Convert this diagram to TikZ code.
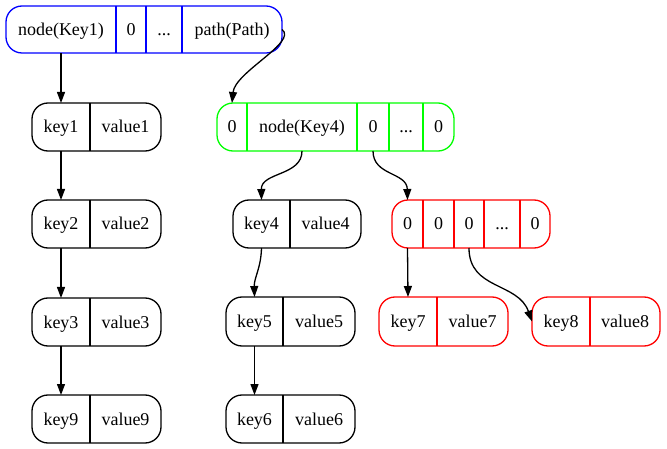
\documentclass[tikz,border=0pt]{standalone}
\usepackage{fontspec}
\setmainfont{Liberation Serif}
\usetikzlibrary{arrows.meta,fit}
\tikzset{
  fld/.style={inner sep=0pt, outer sep=0pt, anchor=center,
    text height=12pt, text depth=0pt,
    font=\fontsize{18pt}{20pt}\selectfont},
  recbox/.style={draw, line width=1.3pt, rounded corners=16pt,
    inner sep=0pt, outer sep=0pt},
  sep/.style={line width=1.3pt},
  link/.style={draw=black, line width=1.3pt,
    -{Triangle[length=11pt,width=8pt]}},
}
% one field of a record: name, x-from, x-to, y-from, y-to, text
\newcommand\recfield[6]{%
  \node[fld, minimum width={#3-#2}, minimum height={#5-#4}]
    (#1) at ({(#2+#3)/2},{(#4+#5)/2}) {#6};}
% vertical line on the right side of a field
\newcommand\fieldsep[2]{\draw[sep,#2] (#1.north east) -- (#1.south east);}
\begin{document}
\begin{tikzpicture}[x=1pt,y=-1pt]
\useasboundingbox (0,0) rectangle (667,449);

% root record
\recfield{t1}{6}{116}{6}{53}{node(Key1)}
\recfield{t2}{116}{146}{6}{53}{0}
\recfield{t3}{146}{182}{6}{53}{...}
\recfield{t4}{182}{282}{6}{53}{path(Path)}
\node[recbox, draw=blue, fit=(t1)(t4)] (root) {};
\fieldsep{t1}{blue}\fieldsep{t2}{blue}\fieldsep{t3}{blue}

% left chain
\recfield{k1}{32}{90}{103}{151}{key1}
\recfield{v1}{90}{161}{103}{151}{value1}
\node[recbox, fit=(k1)(v1)] (n1) {};
\fieldsep{k1}{black}
\recfield{k2}{32}{90}{200}{248}{key2}
\recfield{v2}{90}{161}{200}{248}{value2}
\node[recbox, fit=(k2)(v2)] (n2) {};
\fieldsep{k2}{black}
\recfield{k3}{32}{90}{298}{346}{key3}
\recfield{v3}{90}{161}{298}{346}{value3}
\node[recbox, fit=(k3)(v3)] (n3) {};
\fieldsep{k3}{black}
\recfield{k9}{32}{90}{395}{443}{key9}
\recfield{v9}{90}{161}{395}{443}{value9}
\node[recbox, fit=(k9)(v9)] (n9) {};
\fieldsep{k9}{black}

% path record
\recfield{g1}{217}{247}{103}{151}{0}
\recfield{g2}{247}{357}{103}{151}{node(Key4)}
\recfield{g3}{357}{389}{103}{151}{0}
\recfield{g4}{389}{423}{103}{151}{...}
\recfield{g5}{423}{454}{103}{151}{0}
\node[recbox, draw=green, fit=(g1)(g5)] (path) {};
\fieldsep{g1}{green}\fieldsep{g2}{green}\fieldsep{g3}{green}\fieldsep{g4}{green}

% middle chain
\recfield{k4}{233}{290}{200}{248}{key4}
\recfield{v4}{290}{361}{200}{248}{value4}
\node[recbox, fit=(k4)(v4)] (n4) {};
\fieldsep{k4}{black}
\recfield{k5}{226}{283}{297}{346}{key5}
\recfield{v5}{283}{355}{297}{346}{value5}
\node[recbox, fit=(k5)(v5)] (n5) {};
\fieldsep{k5}{black}
\recfield{k6}{226}{283}{395}{443}{key6}
\recfield{v6}{283}{355}{395}{443}{value6}
\node[recbox, fit=(k6)(v6)] (n6) {};
\fieldsep{k6}{black}

% sub-path record
\recfield{r1}{392}{423}{200}{248}{0}
\recfield{r2}{423}{454}{200}{248}{0}
\recfield{r3}{454}{484}{200}{248}{0}
\recfield{r4}{484}{520}{200}{248}{...}
\recfield{r5}{520}{550}{200}{248}{0}
\node[recbox, draw=red, fit=(r1)(r5)] (sub) {};
\fieldsep{r1}{red}\fieldsep{r2}{red}\fieldsep{r3}{red}\fieldsep{r4}{red}

\recfield{k7}{379}{437}{297}{346}{key7}
\recfield{v7}{437}{508}{297}{346}{value7}
\node[recbox, draw=red, fit=(k7)(v7)] (n7) {};
\fieldsep{k7}{red}
\recfield{k8}{532}{590}{297}{346}{key8}
\recfield{v8}{590}{660}{297}{346}{value8}
\node[recbox, draw=red, fit=(k8)(v8)] (n8) {};
\fieldsep{k8}{red}

% links
\draw[link] (t1.south) -- (k1.north);
\draw[link] (k1.south) -- (k2.north);
\draw[link] (k2.south) -- (k3.north);
\draw[link] (k3.south) -- (k9.north);
\draw[link] (t4.east) .. controls (298,42) and (235,72) .. (g1.north);
\draw[link] (g2.south) .. controls (302,176) and (261,172) .. (k4.north);
\draw[link] (g3.south) .. controls (373,176) and (407,172) .. (r1.north);
\draw[link] (k4.south) .. controls (261,268) and (254,278) .. (k5.north);
\draw[link] (k5.south) -- (k6.north);
\draw[link] (r1.south) -- (k7.north);
\draw[link] (r3.south) .. controls (469,290) and (518,282) .. (k8.west);
\end{tikzpicture}
\end{document}
